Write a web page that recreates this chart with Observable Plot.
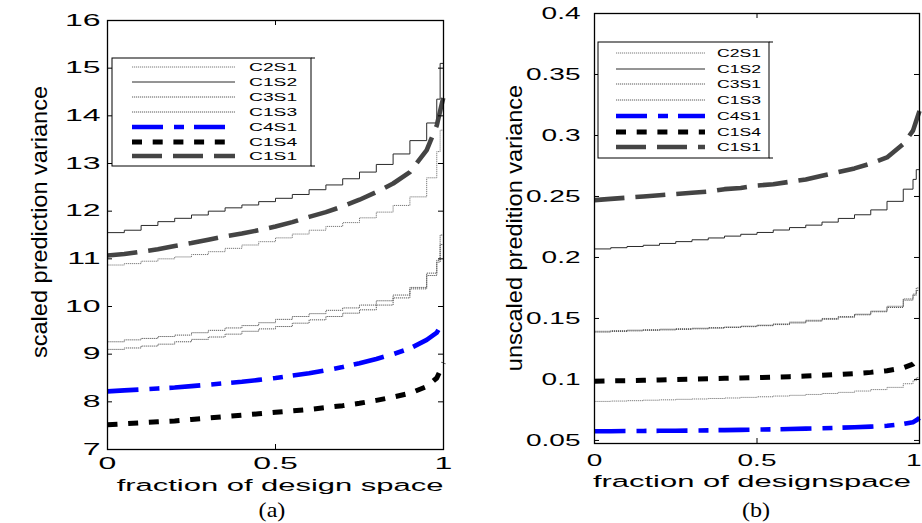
<!DOCTYPE html>
<html><head><meta charset="utf-8">
<script src="https://cdn.jsdelivr.net/npm/d3@7"></script>
<script src="https://cdn.jsdelivr.net/npm/@observablehq/plot@0.6"></script>
<style>
html,body{margin:0;padding:0;background:#fff;}
#wrap{position:relative;width:922px;height:523px;overflow:hidden;background:#fff;}
#wrap svg{position:absolute;top:0;overflow:visible;}
</style></head><body><div id="wrap"></div>
<script>
// ---------- data ----------
const fds = [0,0.05,0.1,0.15,0.2,0.25,0.3,0.35,0.4,0.45,0.5,0.55,0.6,0.65,0.7,0.75,0.8,0.85,0.9,0.95,0.98,0.99,1];
const seriesNames = ["C2S1","C1S2","C3S1","C1S3","C4S1","C1S4","C1S1"];

// (a) scaled prediction variance
const spvC2S1 = [10.87,10.9,10.95,11.0,11.04,11.09,11.15,11.22,11.29,11.36,11.44,11.52,11.6,11.68,11.76,11.86,11.98,12.12,12.3,12.7,13.25,13.7,14.0];
const spvC1S2 = [11.55,11.6,11.7,11.78,11.85,11.92,12.0,12.07,12.13,12.2,12.27,12.35,12.45,12.55,12.68,12.82,12.98,13.2,13.48,13.85,14.35,15.1,15.45];
const spvC3S1 = [9.26,9.3,9.33,9.37,9.4,9.45,9.5,9.55,9.6,9.66,9.73,9.79,9.85,9.92,9.97,10.03,10.12,10.24,10.4,10.7,10.97,11.5,11.65];
const spvC1S3 = [9.1,9.13,9.17,9.21,9.26,9.31,9.36,9.42,9.48,9.53,9.58,9.65,9.72,9.79,9.86,9.93,10.03,10.18,10.37,10.65,10.93,11.3,11.55];
const spvC4S1 = [8.22,8.24,8.26,8.28,8.3,8.33,8.36,8.39,8.42,8.46,8.5,8.55,8.6,8.66,8.73,8.81,8.9,9.0,9.12,9.3,9.45,9.58,9.7];
const spvC1S4 = [7.52,7.54,7.56,7.58,7.6,7.63,7.66,7.69,7.72,7.75,7.78,7.81,7.84,7.88,7.92,7.97,8.03,8.1,8.18,8.32,8.5,8.65,8.82];
const spvC1S1 = [11.07,11.1,11.15,11.2,11.27,11.33,11.4,11.47,11.53,11.6,11.68,11.77,11.88,11.98,12.1,12.24,12.4,12.58,12.82,13.28,13.8,14.1,14.4];

// (b) unscaled prediction variance
const upvC2S1 = [0.082,0.0823,0.0826,0.083,0.0833,0.0837,0.084,0.0844,0.0848,0.0853,0.0858,0.0864,0.087,0.0877,0.0885,0.0894,0.0905,0.0917,0.0935,0.0965,0.099,0.1015,0.104];
const upvC1S2 = [0.207,0.208,0.209,0.21,0.2115,0.213,0.2145,0.216,0.2175,0.219,0.2205,0.2225,0.2245,0.2265,0.229,0.232,0.235,0.239,0.246,0.256,0.264,0.272,0.28];
const upvC3S1 = [0.1395,0.14,0.1404,0.1408,0.1412,0.1416,0.142,0.1425,0.143,0.1437,0.1445,0.1455,0.147,0.1485,0.15,0.1515,0.1535,0.156,0.16,0.166,0.17,0.175,0.178];
const upvC1S3 = [0.1388,0.1393,0.1398,0.1402,0.1406,0.141,0.1415,0.142,0.1426,0.1433,0.1441,0.145,0.1463,0.1478,0.1493,0.151,0.153,0.1555,0.159,0.165,0.169,0.173,0.176];
const upvC4S1 = [0.0575,0.0576,0.0577,0.0578,0.0579,0.058,0.0581,0.0583,0.0585,0.0587,0.0589,0.0591,0.0594,0.0597,0.06,0.0604,0.0608,0.0613,0.062,0.0635,0.065,0.0665,0.0685];
const upvC1S4 = [0.0985,0.0988,0.099,0.0993,0.0996,0.1,0.1003,0.1006,0.1009,0.1012,0.1015,0.1019,0.1023,0.1028,0.1034,0.104,0.1048,0.1058,0.1072,0.1095,0.1125,0.115,0.118];
const upvC1S1 = [0.247,0.248,0.249,0.25,0.251,0.252,0.253,0.254,0.256,0.257,0.259,0.26,0.262,0.264,0.267,0.27,0.273,0.277,0.282,0.293,0.304,0.312,0.32];

const xTicks = [0, 0.5, 1];
const xTickLabels = ["0", "0.5", "1"];
const yTicksA = [7,8,9,10,11,12,13,14,15,16];
const yTickLabelsA = ["7","8","9","10","11","12","13","14","15","16"];
const yTicksB = [0.05,0.1,0.15,0.2,0.25,0.3,0.35,0.4];
const yTickLabelsB = ["0.05","0.1","0.15","0.2","0.25","0.3","0.35","0.4"];

const titlesA = {x: "fraction of design space", y: "scaled prediction variance", caption: "(a)"};
const titlesB = {x: "fraction of designspace", y: "unscaled predition variance", caption: "(b)"};

// ---------- styles ----------
const styles = {
  C2S1: {stroke: "#7a7a7a", strokeWidth: 1, strokeDasharray: "1.2,0.8", curve: "step-after"},
  C1S2: {stroke: "#2a2a2a", strokeWidth: 1, curve: "step-after"},
  C3S1: {stroke: "#5a5a5a", strokeWidth: 1, strokeDasharray: "1.2,0.8", curve: "step-after"},
  C1S3: {stroke: "#5a5a5a", strokeWidth: 1, strokeDasharray: "1.2,0.8", curve: "step-after"},
  C4S1: {stroke: "#0000ff", strokeWidth: 4.6, strokeDasharray: "31,11,10,10"},
  C1S4: {stroke: "#000000", strokeWidth: 5, strokeDasharray: "10,10.7"},
  C1S1: {stroke: "#444444", strokeWidth: 4.6, strokeDasharray: "30,11"}
};
const FONT = "'Liberation Sans', Arial, Helvetica, sans-serif";

function stretch(node, sx, sy = 1) {
  node.querySelectorAll("text").forEach(t => {
    let tr = t.getAttribute("transform");
    if (!tr) {
      const x = parseFloat(t.getAttribute("x") || 0), y = t.getAttribute("y");
      t.removeAttribute("x");
      tr = `translate(${x},0)`;
    }
    t.setAttribute("transform", `${tr} scale(${sx},${sy})`);
  });
}

function panel(cfg) {
  const rows = [];
  for (const name of seriesNames) cfg.values[name].forEach((v, i) => rows.push({s: name, x: fds[i], y: v}));
  const [y0, y1] = cfg.yDomain;
  const tx = 5 / (cfg.width - cfg.ml - cfg.mr);            // tick length in x units
  const ty = 5 / (cfg.height - cfg.mt - cfg.mb) * (y1 - y0); // tick length in y units
  const marks = [];
  for (const name of seriesNames) {
    const st = styles[name];
    marks.push(Plot.line(rows.filter(r => r.s === name), {x: "x", y: "y", stroke: st.stroke, strokeWidth: st.strokeWidth,
      strokeDasharray: st.strokeDasharray, curve: st.curve || "linear", strokeLinecap: "butt", strokeLinejoin: "round"}));
  }
  // inward ticks (MATLAB box style)
  marks.push(Plot.ruleY(cfg.yTicks, {y: d => d, x1: 0, x2: tx, stroke: "black"}));
  marks.push(Plot.ruleY(cfg.yTicks, {y: d => d, x1: 1 - tx, x2: 1, stroke: "black"}));
  marks.push(Plot.ruleX(xTicks, {x: d => d, y1: y0, y2: y0 + ty, stroke: "black"}));
  marks.push(Plot.ruleX(xTicks, {x: d => d, y1: y1 - ty, y2: y1, stroke: "black"}));
  marks.push(Plot.frame({stroke: "black", strokeWidth: 1.3}));
  marks.push(Plot.axisY(cfg.yTicks, {anchor: "left", tickSize: 0, tickPadding: cfg.yPad, fontSize: cfg.tickFont,
    tickFormat: d => cfg.yTickLabels[cfg.yTicks.indexOf(d)], label: null, fill: "black"}));
  marks.push(Plot.axisX(xTicks, {anchor: "bottom", tickSize: 0, tickPadding: cfg.xPad, fontSize: cfg.tickFont,
    tickFormat: d => xTickLabels[xTicks.indexOf(d)], label: null, fill: "black"}));

  const svg = Plot.plot({
    width: cfg.width, height: cfg.height,
    marginLeft: cfg.ml, marginRight: cfg.mr, marginTop: cfg.mt, marginBottom: cfg.mb,
    x: {domain: [0, 1], axis: null},
    y: {domain: cfg.yDomain, axis: null},
    style: {fontFamily: FONT, background: "white", overflow: "visible"},
    marks
  });
  svg.style.left = cfg.left + "px";
  svg.querySelectorAll('g[aria-label="y-axis tick label"], g[aria-label="x-axis tick label"]').forEach(g => stretch(g, cfg.tickSx));
  if (cfg.lastLabelEnd) {
    svg.querySelectorAll('g[aria-label="x-axis tick label"] text').forEach(t => {
      if (t.textContent === "1") {
        const m = /translate\(([^,]+),([^)]+)\)/.exec(t.getAttribute("transform"));
        t.setAttribute("text-anchor", "end");
        t.setAttribute("transform", `translate(${cfg.lastLabelEnd - cfg.left},${m ? m[2] : 0}) scale(${cfg.tickSx},1)`);
      }
    });
  }

  const s = d3.select(svg);
  const L = cfg.left;
  // axis titles and caption
  s.append("text").attr("transform", `translate(${cfg.xTitle[0] - L},${cfg.xTitle[1]}) scale(${cfg.xTitleSx},1)`)
    .attr("text-anchor", "middle").attr("dy", "0.35em").attr("font-family", FONT).attr("font-size", cfg.xTitleFont)
    .attr("fill", "black").text(cfg.titles.x);
  s.append("text").attr("transform", `translate(${cfg.yTitle[0] - L},${cfg.yTitle[1]}) rotate(-90) scale(${cfg.yTitleS[0]},${cfg.yTitleS[1]})`)
    .attr("text-anchor", "middle").attr("dy", "0.35em").attr("font-family", FONT).attr("font-size", cfg.yTitleFont)
    .attr("fill", "black").text(cfg.titles.y);
  s.append("text").attr("transform", `translate(${cfg.caption[0] - L},${cfg.caption[1]}) scale(1.15,1)`)
    .attr("text-anchor", "middle").attr("dy", "0.35em").attr("font-family", "'Liberation Serif', 'Times New Roman', serif")
    .attr("font-size", 21).attr("fill", "black").text(cfg.titles.caption);

  // legend
  const lg = cfg.legend;
  const g = s.append("g");
  g.append("rect").attr("x", lg.x0 - L).attr("y", lg.y0).attr("width", lg.x1 - lg.x0).attr("height", lg.y1 - lg.y0)
    .attr("fill", "white").attr("stroke", "black").attr("stroke-width", 1);
  g.append("line").attr("x1", lg.x1 - L).attr("x2", lg.x1 - L + 4).attr("y1", lg.y0).attr("y2", lg.y0).attr("stroke", "black");
  g.append("line").attr("x1", lg.x1 - L).attr("x2", lg.x1 - L + 4).attr("y1", lg.y1).attr("y2", lg.y1).attr("stroke", "black");
  seriesNames.forEach((name, i) => {
    const st = styles[name];
    const yy = lg.rows[i];
    g.append("line").attr("x1", lg.s0 - L).attr("x2", lg.s1 - L).attr("y1", yy).attr("y2", yy)
      .attr("stroke", st.stroke).attr("stroke-width", st.strokeWidth).attr("stroke-dasharray", st.strokeDasharray || null);
    g.append("text").attr("transform", `translate(${lg.tx - L},${yy}) scale(${lg.sx},1)`).attr("dy", "0.35em")
      .attr("text-anchor", "start").attr("font-family", FONT).attr("font-size", lg.font).attr("fill", "black").text(name);
  });
  document.getElementById("wrap").appendChild(svg);
}

panel({
  left: 0, width: 461, height: 523, ml: 107, mr: 18, mt: 20, mb: 74,
  yDomain: [7, 16], yTicks: yTicksA, yTickLabels: yTickLabelsA,
  values: {C2S1: spvC2S1, C1S2: spvC1S2, C3S1: spvC3S1, C1S3: spvC1S3, C4S1: spvC4S1, C1S4: spvC1S4, C1S1: spvC1S1},
  tickFont: 16, tickSx: 2.0, yPad: 7, xPad: 8,
  titles: titlesA, xTitle: [280, 485], xTitleFont: 17, xTitleSx: 1.82,
  yTitle: [39, 222], yTitleFont: 22, yTitleS: [1.07, 1.0], caption: [272, 510],
  legend: {x0: 112, y0: 58, x1: 311, y1: 166, s0: 132, s1: 235, tx: 249, rows: [67, 82, 97, 112, 127, 142, 156], font: 11, sx: 1.75}
});
panel({
  left: 461, width: 461, height: 523, ml: 133, mr: 3, mt: 13, mb: 80,
  yDomain: [0.0475, 0.4], yTicks: yTicksB, yTickLabels: yTickLabelsB,
  values: {C2S1: upvC2S1, C1S2: upvC1S2, C3S1: upvC3S1, C1S3: upvC1S3, C4S1: upvC4S1, C1S4: upvC1S4, C1S1: upvC1S1},
  tickFont: 16, tickSx: 1.75, yPad: 14, xPad: 11, lastLabelEnd: 921,
  titles: titlesB, xTitle: [752, 481], xTitleFont: 17, xTitleSx: 1.82,
  yTitle: [514, 228], yTitleFont: 22, yTitleS: [1.07, 1.0], caption: [756, 510],
  legend: {x0: 598, y0: 42, x1: 769, y1: 158, s0: 616, s1: 705, tx: 717, rows: [53, 69, 84, 100, 116, 132, 147], font: 11, sx: 1.6}
});
</script></body></html>
